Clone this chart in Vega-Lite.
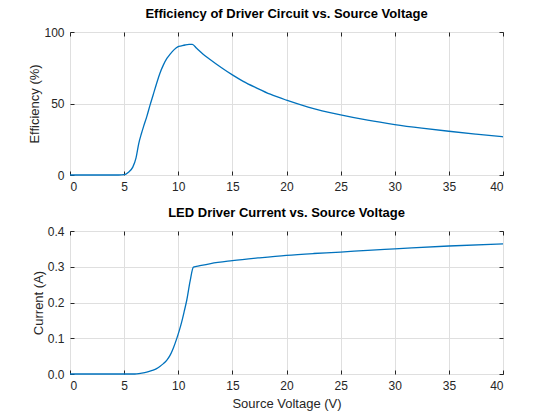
{
  "$schema": "https://vega.github.io/schema/vega-lite/v6.json",
  "background": "white",
  "padding": {"left": 28, "top": 7, "right": 5, "bottom": 5},
  "spacing": 13,
  "datasets": {
    "efficiency": [
      {"v": 0, "eff": 0}, {"v": 4.5, "eff": 0}, {"v": 5, "eff": 0.2}, {"v": 5.4, "eff": 2},
      {"v": 5.8, "eff": 5.5}, {"v": 6.1, "eff": 12}, {"v": 6.35, "eff": 22}, {"v": 6.6, "eff": 29},
      {"v": 6.8, "eff": 34}, {"v": 7.1, "eff": 41}, {"v": 7.4, "eff": 49}, {"v": 7.7, "eff": 56.5},
      {"v": 8.0, "eff": 64}, {"v": 8.3, "eff": 71}, {"v": 8.63, "eff": 77}, {"v": 8.95, "eff": 81.5},
      {"v": 9.25, "eff": 84.5}, {"v": 9.6, "eff": 87.5}, {"v": 9.95, "eff": 89.6}, {"v": 10.3, "eff": 90.3},
      {"v": 10.63, "eff": 90.9}, {"v": 11.0, "eff": 91.3}, {"v": 11.3, "eff": 91.3}, {"v": 11.7, "eff": 88.6},
      {"v": 12.3, "eff": 84.5}, {"v": 12.94, "eff": 80.8}, {"v": 14, "eff": 75}, {"v": 15, "eff": 70},
      {"v": 16, "eff": 65.5}, {"v": 17.26, "eff": 60.8}, {"v": 18.5, "eff": 56.5}, {"v": 20, "eff": 52.3},
      {"v": 22, "eff": 47.5}, {"v": 25, "eff": 42}, {"v": 27.5, "eff": 38.3}, {"v": 30, "eff": 35.3},
      {"v": 32.5, "eff": 32.8}, {"v": 35, "eff": 30.6}, {"v": 37.5, "eff": 28.6}, {"v": 40, "eff": 26.7}
    ],
    "current": [
      {"v": 0, "i": 0}, {"v": 6, "i": 0}, {"v": 6.5, "i": 0.002}, {"v": 7.09, "i": 0.005},
      {"v": 7.6, "i": 0.01}, {"v": 8.0, "i": 0.015}, {"v": 8.3, "i": 0.021}, {"v": 8.63, "i": 0.029},
      {"v": 8.95, "i": 0.039}, {"v": 9.24, "i": 0.052}, {"v": 9.55, "i": 0.073}, {"v": 9.86, "i": 0.099},
      {"v": 10.1, "i": 0.122}, {"v": 10.32, "i": 0.146}, {"v": 10.55, "i": 0.175}, {"v": 10.79, "i": 0.207},
      {"v": 11.09, "i": 0.259}, {"v": 11.4, "i": 0.299}, {"v": 12, "i": 0.303}, {"v": 13, "i": 0.309},
      {"v": 15, "i": 0.317}, {"v": 17.5, "i": 0.325}, {"v": 20, "i": 0.332}, {"v": 22.5, "i": 0.337},
      {"v": 25, "i": 0.341}, {"v": 27.5, "i": 0.346}, {"v": 30, "i": 0.35}, {"v": 35, "i": 0.358},
      {"v": 40, "i": 0.364}
    ]
  },
  "vconcat": [
    {
      "title": "Efficiency of Driver Circuit vs. Source Voltage",
      "width": 433,
      "height": 143,
      "data": {"name": "efficiency"},
      "resolve": {"axis": {"x": "independent", "y": "independent"}},
      "layer": [
        {
          "mark": {"type": "line", "color": "#0072BD", "strokeWidth": 1.3, "interpolate": "monotone"},
          "encoding": {
            "x": {
              "field": "v", "type": "quantitative", "title": null,
              "scale": {"domain": [0, 40], "nice": false, "zero": false},
              "axis": {"values": [0, 5, 10, 15, 20, 25, 30, 35, 40]}
            },
            "y": {
              "field": "eff", "type": "quantitative", "title": "Efficiency (%)",
              "scale": {"domain": [0, 100], "nice": false},
              "axis": {"values": [0, 50, 100]}
            }
          }
        },
        {
          "mark": {"type": "line", "strokeOpacity": 0},
          "encoding": {
            "x": {
              "field": "v", "type": "quantitative",
              "axis": {"orient": "top", "values": [0, 5, 10, 15, 20, 25, 30, 35, 40], "labels": false, "grid": false, "title": null}
            },
            "y": {
              "field": "eff", "type": "quantitative",
              "axis": {"orient": "right", "values": [0, 50, 100], "labels": false, "grid": false, "title": null}
            }
          }
        }
      ]
    },
    {
      "title": "LED Driver Current vs. Source Voltage",
      "width": 433,
      "height": 143,
      "data": {"name": "current"},
      "resolve": {"axis": {"x": "independent", "y": "independent"}},
      "layer": [
        {
          "mark": {"type": "line", "color": "#0072BD", "strokeWidth": 1.3, "interpolate": "monotone"},
          "encoding": {
            "x": {
              "field": "v", "type": "quantitative", "title": "Source Voltage (V)",
              "scale": {"domain": [0, 40], "nice": false, "zero": false},
              "axis": {"values": [0, 5, 10, 15, 20, 25, 30, 35, 40]}
            },
            "y": {
              "field": "i", "type": "quantitative", "title": "Current (A)",
              "scale": {"domain": [0, 0.4], "nice": false},
              "axis": {"values": [0, 0.1, 0.2, 0.3, 0.4], "format": ".1f"}
            }
          }
        },
        {
          "mark": {"type": "line", "strokeOpacity": 0},
          "encoding": {
            "x": {
              "field": "v", "type": "quantitative",
              "axis": {"orient": "top", "values": [0, 5, 10, 15, 20, 25, 30, 35, 40], "labels": false, "grid": false, "title": null}
            },
            "y": {
              "field": "i", "type": "quantitative",
              "axis": {"orient": "right", "values": [0, 0.1, 0.2, 0.3, 0.4], "labels": false, "grid": false, "title": null}
            }
          }
        }
      ]
    }
  ],
  "config": {
    "font": "Liberation Sans",
    "view": {"stroke": "#262626", "strokeWidth": 1},
    "title": {"fontSize": 13, "fontWeight": "bold", "color": "#000000", "offset": 5, "anchor": "middle"},
    "axis": {
      "domain": false,
      "grid": true,
      "gridColor": "#DFDFDF",
      "gridWidth": 1,
      "ticks": true,
      "tickSize": -4,
      "tickColor": "#262626",
      "labelFont": "Liberation Sans",
      "labelFontSize": 12,
      "labelColor": "#262626",
      "labelPadding": 10,
      "titleFont": "Liberation Sans",
      "titleFontSize": 13,
      "titleFontWeight": "normal",
      "titleColor": "#262626"
    },
    "axisY": {"titlePadding": 2},
    "axisX": {"titlePadding": 6}
  }
}
